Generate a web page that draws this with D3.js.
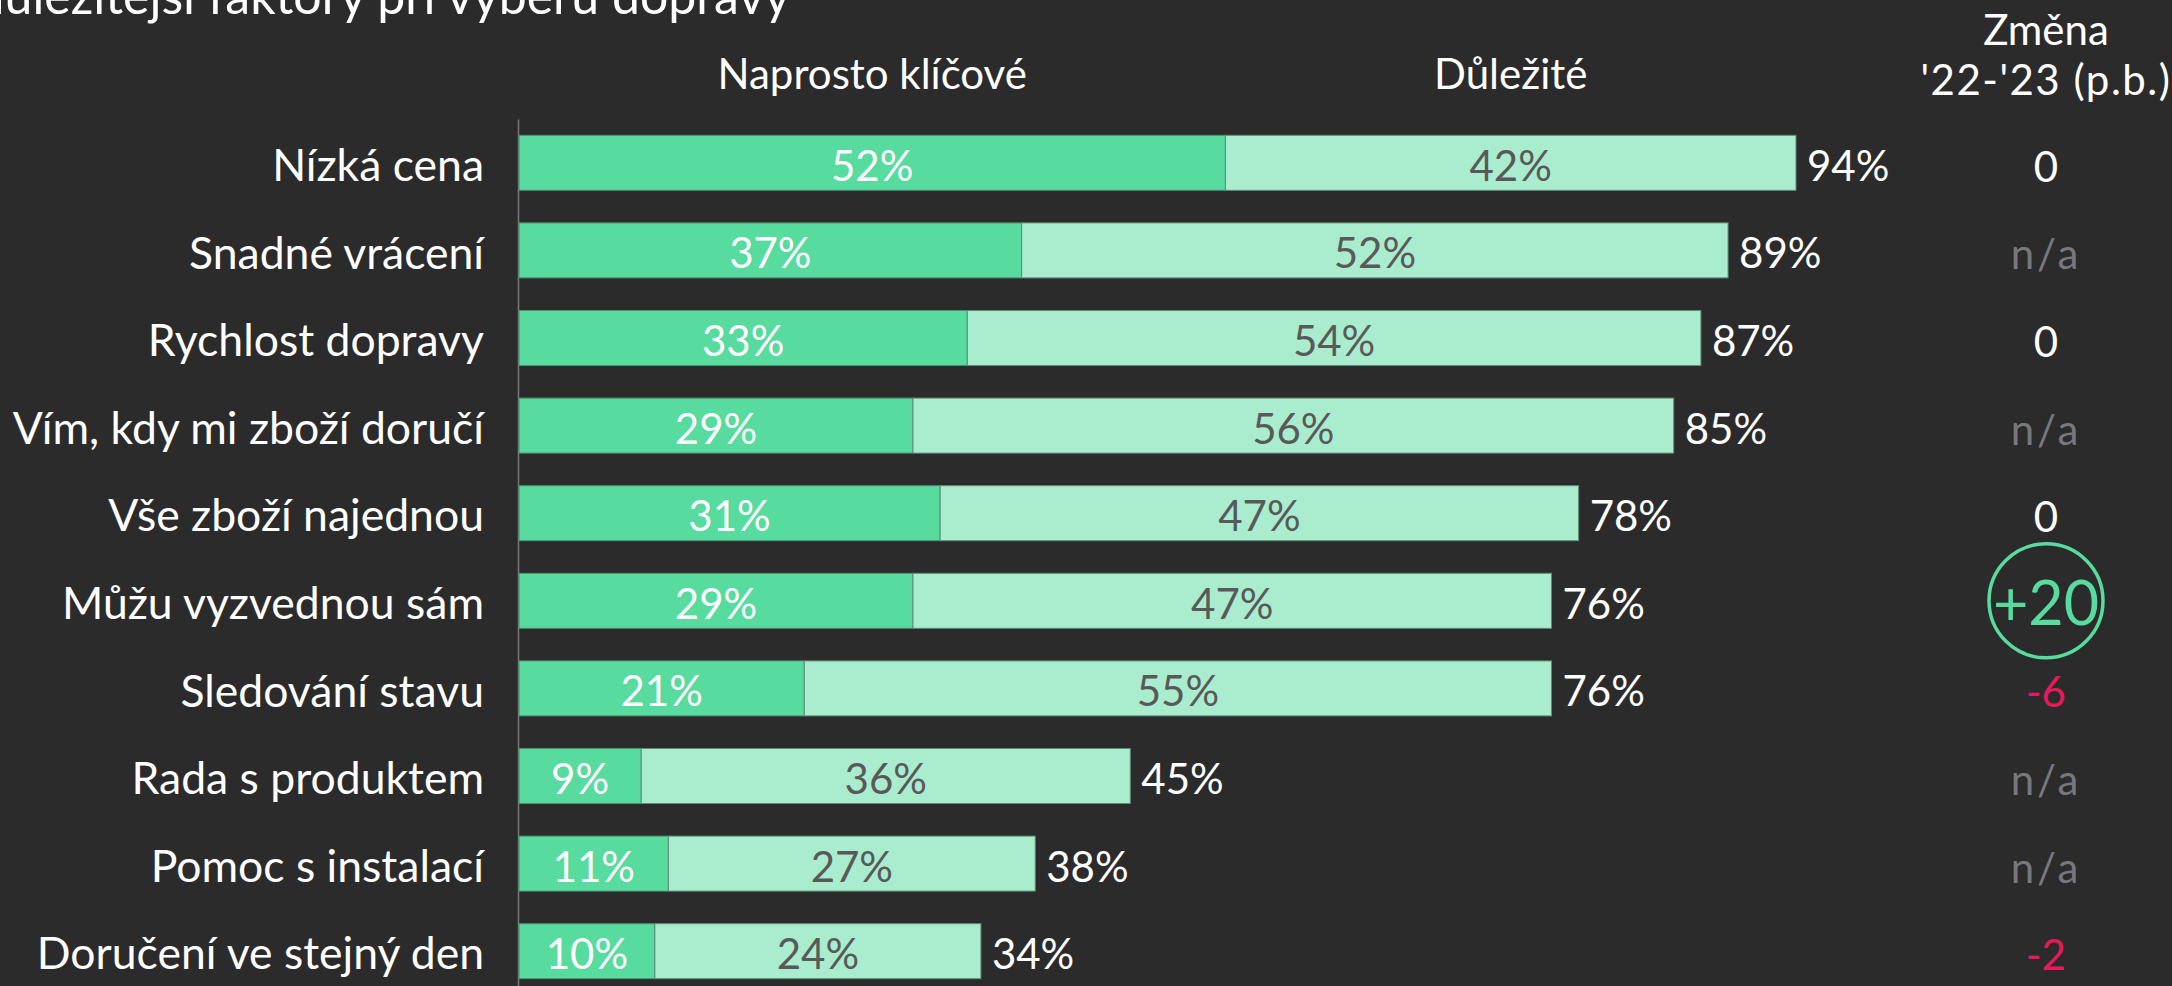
<!DOCTYPE html>
<html lang="cs">

<head>
    <meta charset="utf-8" />
    <title>Faktory při výběru dopravy</title>
    <script type="text/javascript" src="https://cdn.jsdelivr.net/npm/d3@7"></script>
    <style type="text/css">
        html, body {
            margin: 0;
            padding: 0;
            background-color: #2b2b2b;
            overflow: hidden;
        }
        svg text {
            font-family: Lato, "Open Sans", sans-serif;
        }
    </style>
</head>

<body>
    <script type="text/javascript">
        // data
        var categories = [
            "Nízká cena",
            "Snadné vrácení",
            "Rychlost dopravy",
            "Vím, kdy mi zboží doručí",
            "Vše zboží najednou",
            "Můžu vyzvednou sám",
            "Sledování stavu",
            "Rada s produktem",
            "Pomoc s instalací",
            "Doručení ve stejný den"
        ];
        var keyValues = [52, 37, 33, 29, 31, 29, 21, 9, 11, 10]; // Naprosto klíčové
        var importantValues = [42, 52, 54, 56, 47, 47, 55, 36, 27, 24]; // Důležité
        var totalValues = [94, 89, 87, 85, 78, 76, 76, 45, 38, 34];
        var changeLabels = ["0", "n/a", "0", "n/a", "0", "+20", "-6", "n/a", "n/a", "-2"];
        var seriesNames = ["Naprosto klíčové", "Důležité"];
        var titleText = "Nejdůležitější faktory při výběru dopravy";
        var changeHeader = ["Změna", "'22-'23 (p.b.)"];

        var w = 2172;
        var h = 986;
        var axisX = 518;

        var darkGreen = "#57db9e";
        var lightGreen = "#a9edce";

        var xScale = d3.scaleLinear()
            .domain([0, 100])
            .range([axisX + 1, axisX + 1 + 1358.5]);

        var yScale = d3.scaleBand()
            .domain(categories)
            .range([119, 995])
            .paddingInner(0.372)
            .paddingOuter(0.186);

        var svg = d3.select("body")
            .append("svg")
            .attr("width", w)
            .attr("height", h);

        // title (partly cut off at the top, as in the original)
        svg.append("text")
            .attr("x", 790)
            .attr("y", 14)
            .attr("text-anchor", "end")
            .attr("font-size", "50px")
            .attr("fill", "white")
            .text(titleText);

        // category axis
        var yAxis = d3.axisLeft(yScale).tickSize(0).tickPadding(34);
        var gAxis = svg.append("g")
            .attr("transform", "translate(" + axisX + ",0)")
            .call(yAxis);
        gAxis.select(".domain")
            .attr("stroke", "#777777")
            .attr("stroke-width", 1.5);
        gAxis.selectAll("text")
            .attr("font-size", "44.5px")
            .attr("font-family", "Lato, sans-serif")
            .attr("fill", "white")
            .attr("dy", "0.41em");

        var rows = categories.map(function(c, i) {
            return {
                cat: c,
                key: keyValues[i],
                imp: importantValues[i],
                total: totalValues[i],
                change: changeLabels[i]
            };
        });

        // Naprosto klíčové
        svg.selectAll("rect.key")
            .data(rows)
            .enter()
            .append("rect")
            .attr("class", "key")
            .attr("x", xScale(0))
            .attr("y", function(d) { return yScale(d.cat); })
            .attr("width", function(d) { return xScale(d.key) - xScale(0); })
            .attr("height", yScale.bandwidth())
            .attr("fill", darkGreen)
            .attr("stroke", "#4f8a6f")
            .attr("stroke-width", 1);

        // Důležité
        svg.selectAll("rect.imp")
            .data(rows)
            .enter()
            .append("rect")
            .attr("class", "imp")
            .attr("x", function(d) { return xScale(d.key); })
            .attr("y", function(d) { return yScale(d.cat); })
            .attr("width", function(d) { return xScale(d.key + d.imp) - xScale(d.key); })
            .attr("height", yScale.bandwidth())
            .attr("fill", lightGreen)
            .attr("stroke", "#5f8d78")
            .attr("stroke-width", 1);

        function baseline(d) {
            return yScale(d.cat) + yScale.bandwidth() / 2 + 18;
        }

        svg.selectAll("text.keyLabel")
            .data(rows)
            .enter()
            .append("text")
            .attr("class", "keyLabel")
            .attr("x", function(d) { return (xScale(0) + xScale(d.key)) / 2; })
            .attr("y", baseline)
            .attr("text-anchor", "middle")
            .attr("font-size", "42px")
            .attr("fill", "white")
            .text(function(d) { return d.key + "%"; });

        svg.selectAll("text.impLabel")
            .data(rows)
            .enter()
            .append("text")
            .attr("class", "impLabel")
            .attr("x", function(d) { return (xScale(d.key) + xScale(d.key + d.imp)) / 2; })
            .attr("y", baseline)
            .attr("text-anchor", "middle")
            .attr("font-size", "42px")
            .attr("fill", "#595959")
            .text(function(d) { return d.imp + "%"; });

        svg.selectAll("text.totalLabel")
            .data(rows)
            .enter()
            .append("text")
            .attr("class", "totalLabel")
            .attr("x", function(d) { return xScale(d.key + d.imp) + 11; })
            .attr("y", baseline)
            .attr("font-size", "42px")
            .attr("fill", "white")
            .text(function(d) { return d.total + "%"; });

        // series headers over the first row segments
        var first = rows[0];
        svg.selectAll("text.header")
            .data([
                { name: seriesNames[0], a: 0, b: first.key },
                { name: seriesNames[1], a: first.key, b: first.key + first.imp }
            ])
            .enter()
            .append("text")
            .attr("class", "header")
            .attr("x", function(d) { return (xScale(d.a) + xScale(d.b)) / 2; })
            .attr("y", 89)
            .attr("text-anchor", "middle")
            .attr("font-size", "42px")
            .attr("fill", "white")
            .text(function(d) { return d.name; });

        // change column
        var changeX = 2046;
        svg.selectAll("text.changeHead")
            .data(changeHeader)
            .enter()
            .append("text")
            .attr("class", "changeHead")
            .attr("x", changeX)
            .attr("y", function(d, i) { return 45 + i * 50; })
            .attr("text-anchor", "middle")
            .attr("font-size", "42px")
            .attr("letter-spacing", function(d, i) { return i ? "1.5px" : "0px"; })
            .attr("fill", "white")
            .text(function(d) { return d; });

        function changeColor(c) {
            if (c === "n/a") return "#77777c";
            if (c.charAt(0) === "+") return darkGreen;
            if (c.charAt(0) === "-") return "#e8195b";
            return "white";
        }

        svg.selectAll("circle.highlight")
            .data(rows.filter(function(d) { return d.change.charAt(0) === "+"; }))
            .enter()
            .append("circle")
            .attr("class", "highlight")
            .attr("cx", changeX)
            .attr("cy", function(d) { return yScale(d.cat) + yScale.bandwidth() / 2; })
            .attr("r", 57)
            .attr("fill", "none")
            .attr("stroke", darkGreen)
            .attr("stroke-width", 3.5);

        svg.selectAll("text.change")
            .data(rows)
            .enter()
            .append("text")
            .attr("class", "change")
            .attr("x", changeX)
            .attr("y", function(d) {
                return d.change.charAt(0) === "+" ? baseline(d) + 6 : baseline(d) + 1;
            })
            .attr("text-anchor", "middle")
            .attr("font-size", function(d) { return d.change.charAt(0) === "+" ? "61px" : "42px"; })
            .attr("letter-spacing", function(d) { return d.change === "n/a" ? "3px" : "0px"; })
            .attr("fill", function(d) { return changeColor(d.change); })
            .text(function(d) { return d.change; });
    </script>
</body>

</html>
